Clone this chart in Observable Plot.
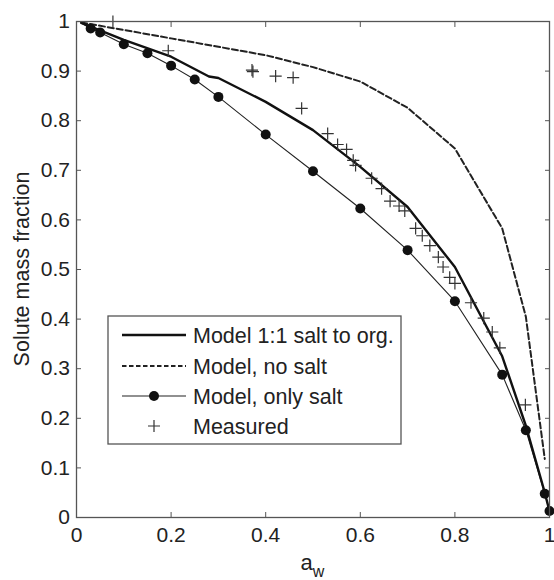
<!DOCTYPE html>
<html><head><meta charset="utf-8">
<script src="https://cdn.jsdelivr.net/npm/d3@7"></script>
<script src="https://cdn.jsdelivr.net/npm/@observablehq/plot@0.6"></script>
<style>
body{margin:0;background:#fff;}
#wrap{width:554px;height:580px;}
</style></head><body><div id="wrap"></div>
<script>
// ---- data ----
const xTicks = [0, 0.2, 0.4, 0.6, 0.8, 1];
const xTickLabels = ["0", "0.2", "0.4", "0.6", "0.8", "1"];
const yTicks = [0, 0.1, 0.2, 0.3, 0.4, 0.5, 0.6, 0.7, 0.8, 0.9, 1];
const yTickLabels = ["0", "0.1", "0.2", "0.3", "0.4", "0.5", "0.6", "0.7", "0.8", "0.9", "1"];

const mixAw   = [0.01, 0.1, 0.2, 0.28, 0.3, 0.4, 0.5, 0.6, 0.7, 0.8, 0.9, 0.95, 0.99, 1.0];
const mixFrac = [0.997, 0.963, 0.929, 0.889, 0.886, 0.838, 0.781, 0.707, 0.626, 0.505, 0.325, 0.185, 0.05, 0.013];

const noSaltAw   = [0.01, 0.1, 0.2, 0.3, 0.4, 0.5, 0.6, 0.7, 0.8, 0.9, 0.95, 0.99];
const noSaltFrac = [0.998, 0.983, 0.966, 0.949, 0.932, 0.908, 0.879, 0.826, 0.744, 0.583, 0.405, 0.118];

const saltAw   = [0.01, 0.03, 0.05, 0.1, 0.15, 0.2, 0.25, 0.3, 0.4, 0.5, 0.6, 0.7, 0.8, 0.9, 0.95, 0.99, 1.0];
const saltFrac = [0.997, 0.986, 0.978, 0.954, 0.936, 0.911, 0.883, 0.848, 0.772, 0.698, 0.623, 0.539, 0.436, 0.288, 0.176, 0.048, 0.013];
const saltMarker = [false, true, true, true, true, true, true, true, true, true, true, true, true, true, true, true, true];

const measAw   = [0.077, 0.194, 0.371, 0.373, 0.421, 0.458, 0.476, 0.531, 0.552, 0.571, 0.585, 0.590, 0.624, 0.645, 0.663, 0.682, 0.694, 0.717, 0.731, 0.747, 0.765, 0.775, 0.789, 0.800, 0.834, 0.861, 0.879, 0.895, 0.949];
const measFrac = [1.0, 0.941, 0.902, 0.899, 0.890, 0.887, 0.825, 0.774, 0.752, 0.742, 0.720, 0.710, 0.684, 0.663, 0.638, 0.628, 0.618, 0.583, 0.568, 0.548, 0.525, 0.505, 0.484, 0.472, 0.433, 0.402, 0.374, 0.342, 0.227];

const legendLabels = ["Model 1:1 salt to org.", "Model, no salt", "Model, only salt", "Measured"];

// ---- tables ----
const mix = mixAw.map((x, i) => ({x, y: mixFrac[i]}));
const noSalt = noSaltAw.map((x, i) => ({x, y: noSaltFrac[i]}));
const salt = saltAw.map((x, i) => ({x, y: saltFrac[i], m: saltMarker[i]}));
const meas = measAw.map((x, i) => ({x, y: measFrac[i]}));

const FONT = '"Liberation Sans", Arial, Helvetica, sans-serif';
const INK = "#222";
const DASH = "6,3";

const chart = Plot.plot({
  width: 554, height: 580,
  marginLeft: 76, marginRight: 5, marginTop: 21, marginBottom: 63,
  x: {domain: [0, 1]},
  y: {domain: [0, 1]},
  style: {fontFamily: FONT, color: INK, background: "white", overflow: "visible"},
  marks: [
    Plot.axisX(xTicks, {anchor: "bottom", tickSize: -5, tickPadding: 15, fontSize: 21, stroke: "#555", tickFormat: (d, i) => xTickLabels[i], label: null}),
    Plot.axisX(xTicks, {anchor: "top", tickSize: -5, stroke: "#555", tickFormat: () => "", label: null}),
    Plot.axisY(yTicks, {anchor: "left", tickSize: -5, tickPadding: 11.5, fontSize: 21, stroke: "#555", tickFormat: (d, i) => yTickLabels[i], label: null}),
    Plot.axisY(yTicks, {anchor: "right", tickSize: -5, stroke: "#555", tickFormat: () => "", label: null}),
    Plot.line(noSalt, {x: "x", y: "y", stroke: INK, strokeWidth: 2, strokeDasharray: DASH}),
    Plot.line(salt, {x: "x", y: "y", stroke: INK, strokeWidth: 1.1}),
    Plot.dot(salt.filter(d => d.m), {x: "x", y: "y", r: 5, fill: "#111", stroke: "none"}),
    Plot.line(mix, {x: "x", y: "y", stroke: "#111", strokeWidth: 2.4}),
    Plot.dot(meas, {x: "x", y: "y", symbol: "plus", r: 4, stroke: "#333", strokeWidth: 1.2}),
    Plot.frame({stroke: "#555", strokeWidth: 1.3})
  ]
});

document.getElementById("wrap").appendChild(chart);

// ---- axis titles and legend ----
const svg = d3.select(chart);
const xs = chart.scale("x"), ys = chart.scale("y");
const cx = (xs.apply(0) + xs.apply(1)) / 2;
const cy = (ys.apply(0) + ys.apply(1)) / 2;

const xl = svg.append("text").attr("x", cx).attr("y", 570).attr("text-anchor", "middle")
  .attr("font-family", FONT).attr("font-size", 22).attr("fill", INK);
xl.append("tspan").text("a");
xl.append("tspan").attr("dy", 7).attr("font-size", 16).text("w");

svg.append("text").attr("transform", `translate(21,${cy}) rotate(-90)`)
  .attr("text-anchor", "middle").attr("dy", "0.35em")
  .attr("font-family", FONT).attr("font-size", 21.5).attr("fill", INK)
  .text("Solute mass fraction");

const lg = svg.append("g").attr("transform", "translate(108,316)");
lg.append("rect").attr("width", 293).attr("height", 128).attr("fill", "white").attr("stroke", "#555").attr("stroke-width", 1.3);
const rowY = [19, 50, 80, 110];
const sw0 = 14, sw1 = 78, swc = 46, tx = 85;
lg.append("line").attr("x1", sw0).attr("x2", sw1).attr("y1", rowY[0]).attr("y2", rowY[0]).attr("stroke", "#111").attr("stroke-width", 2.4);
lg.append("line").attr("x1", sw0).attr("x2", sw1).attr("y1", rowY[1]).attr("y2", rowY[1]).attr("stroke", INK).attr("stroke-width", 2).attr("stroke-dasharray", "4.5,2.5");
lg.append("line").attr("x1", sw0).attr("x2", sw1).attr("y1", rowY[2]).attr("y2", rowY[2]).attr("stroke", INK).attr("stroke-width", 1.1);
lg.append("circle").attr("cx", swc).attr("cy", rowY[2]).attr("r", 5).attr("fill", "#111");
lg.append("path").attr("d", `M${swc - 6},${rowY[3]}H${swc + 6}M${swc},${rowY[3] - 6}V${rowY[3] + 6}`).attr("stroke", "#333").attr("stroke-width", 1.2);
legendLabels.forEach((t, i) => {
  lg.append("text").attr("x", tx).attr("y", rowY[i]).attr("dy", "0.35em")
    .attr("text-anchor", "start")
    .attr("font-family", FONT).attr("font-size", 21.5).attr("fill", INK).text(t);
});
</script>
</body></html>
